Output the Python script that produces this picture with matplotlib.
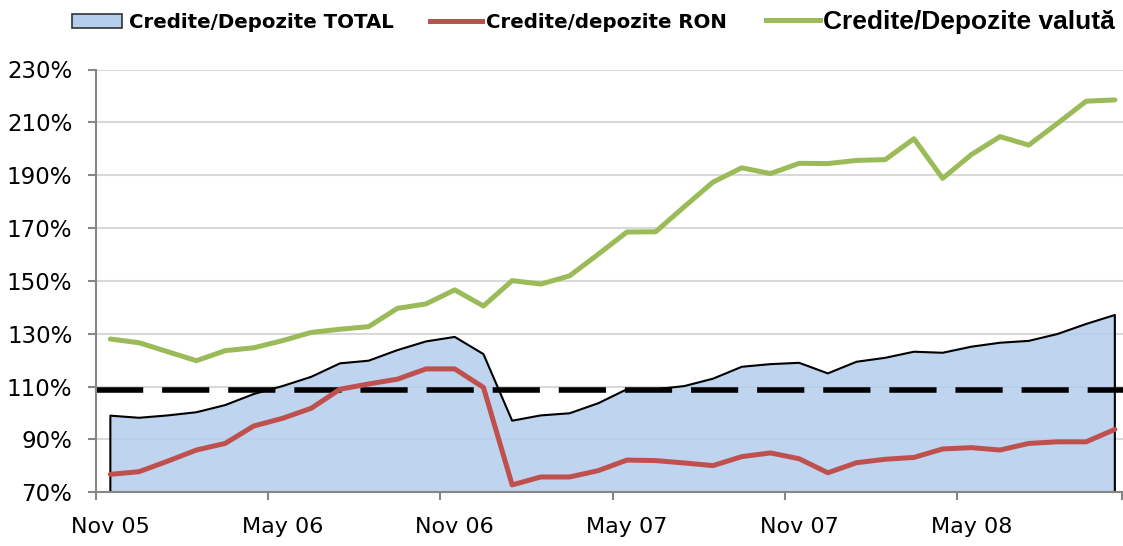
import matplotlib
matplotlib.use('Agg')
import matplotlib.pyplot as plt
import numpy as np
from matplotlib.patches import Patch
from matplotlib.lines import Line2D

# monthly series, Nov 05 .. Oct 08 (%)
total = [99.0, 98.2, 99.1, 100.3, 103.0, 107.2, 110.2, 113.7, 118.8, 119.8,
         123.8, 127.1, 128.8, 122.3, 97.1, 99.1, 99.9, 103.7, 109.0, 109.0,
         110.2, 113.0, 117.5, 118.5, 119.0, 115.0, 119.4, 120.9, 123.2, 122.8,
         125.1, 126.6, 127.3, 129.9, 133.7, 137.1]
ron = [76.8, 77.8, 81.8, 86.0, 88.5, 95.1, 98.0, 101.8, 109.0, 111.0,
       112.8, 116.7, 116.7, 109.7, 72.8, 75.8, 75.8, 78.2, 82.2, 82.0,
       81.1, 80.1, 83.5, 84.9, 82.7, 77.4, 81.2, 82.5, 83.2, 86.4,
       86.9, 86.0, 88.5, 89.1, 89.1, 93.8]
valuta = [128.0, 126.6, 123.2, 119.8, 123.6, 124.7, 127.4, 130.5, 131.7, 132.7,
          139.6, 141.3, 146.6, 140.5, 150.1, 148.8, 151.9, 160.1, 168.5, 168.6,
          178.1, 187.4, 192.8, 190.6, 194.5, 194.4, 195.6, 195.9, 203.8, 188.8,
          197.8, 204.6, 201.4, 209.6, 218.0, 218.5]
threshold = 108.8

tick_labels = ['Nov 05', 'May 06', 'Nov 06', 'May 07', 'Nov 07', 'May 08']
label_step = 6
y_ticks = [70, 90, 110, 130, 150, 170, 190, 210, 230]

AREA_COLOR = '#b4cdeb'
RON_COLOR = '#c0504d'
VAL_COLOR = '#9bbb59'
AXIS_COLOR = '#868686'


def make_chart():
    plt.rcParams['font.family'] = ['DejaVu Sans']
    fig = plt.figure(figsize=(11.23, 5.46), dpi=100)
    ax = fig.add_axes([96 / 1123, 53.7 / 546, 1 - 96 / 1123, (492.3 - 69.5) / 546])

    x = np.arange(len(total))

    # grid under a slightly see-through area
    for yv in y_ticks:
        ax.axhline(yv, color='#d9d9d9', lw=1.5, zorder=0)

    ax.fill_between(x, 70, total, facecolor=AREA_COLOR, alpha=0.85,
                    edgecolor='none', zorder=1)
    ax.plot(np.r_[x[0], x, x[-1]], np.r_[70, total, 70], color='black',
            lw=1.5, zorder=2)

    ax.axhline(threshold, color='black', lw=4, dashes=(8.5, 3.4), zorder=3)

    ax.plot(x, ron, color=RON_COLOR, lw=3.6, zorder=4, solid_capstyle='round')
    ax.plot(x, valuta, color=VAL_COLOR, lw=3.6, zorder=4, solid_capstyle='round')

    px_per_month = 28.7
    ax.set_xlim(-0.5, -0.5 + 1027 / px_per_month)
    ax.set_ylim(70, 230)

    # tick marks between categories, labels on the category
    n = len(total)
    ax.set_xticks(list(np.arange(-0.5, n - 1, label_step)) + [-0.5 + 1025.7 / px_per_month])
    ax.set_xticklabels([])
    ax.set_xticks(np.arange(0, n, label_step), minor=True)
    ax.set_xticklabels(tick_labels, minor=True, fontsize=16)
    ax.tick_params(axis='x', which='major', length=6, width=1.5, color=AXIS_COLOR)
    ax.tick_params(axis='x', which='minor', length=0, pad=18)

    ax.set_yticks(y_ticks)
    ax.set_yticklabels([f'{v}%' for v in y_ticks], fontsize=16.5)
    ax.tick_params(axis='y', length=6, width=1.5, color=AXIS_COLOR, pad=11)

    for side in ['top', 'right']:
        ax.spines[side].set_visible(False)
    for side in ['left', 'bottom']:
        ax.spines[side].set_color(AXIS_COLOR)
        ax.spines[side].set_linewidth(1.5)
        ax.spines[side].set_zorder(5)

    # legend: three single-entry legends placed across the top
    y_leg = 1 - 22 / 546
    h1 = Patch(facecolor=AREA_COLOR, edgecolor='#333333', lw=1.2)
    h2 = Line2D([], [], color=RON_COLOR, lw=3.6)
    h3 = Line2D([], [], color=VAL_COLOR, lw=3.6)
    entries = [
        (h1, 'Credite/Depozite TOTAL', 72, 14.2, 2.55, 0.36, 'DejaVu Sans'),
        (h2, 'Credite/depozite RON', 430, 14.2, 2.65, 0.2, 'DejaVu Sans'),
        (h3, 'Credite/Depozite valută', 766, 19, 2.05, 0.12, 'Liberation Sans'),
    ]
    for handle, text, xpx, fs, hl, hp, fam in entries:
        fig.legend([handle], [text], loc='center left',
                   bbox_to_anchor=(xpx / 1123, y_leg), frameon=False,
                   borderpad=0, borderaxespad=0, handlelength=hl,
                   handletextpad=hp,
                   prop={'family': fam, 'weight': 'bold', 'size': fs})

    fig.savefig('out.png', dpi=100)
    plt.close(fig)


def main():
    make_chart()


if __name__ == "__main__":
    main()
